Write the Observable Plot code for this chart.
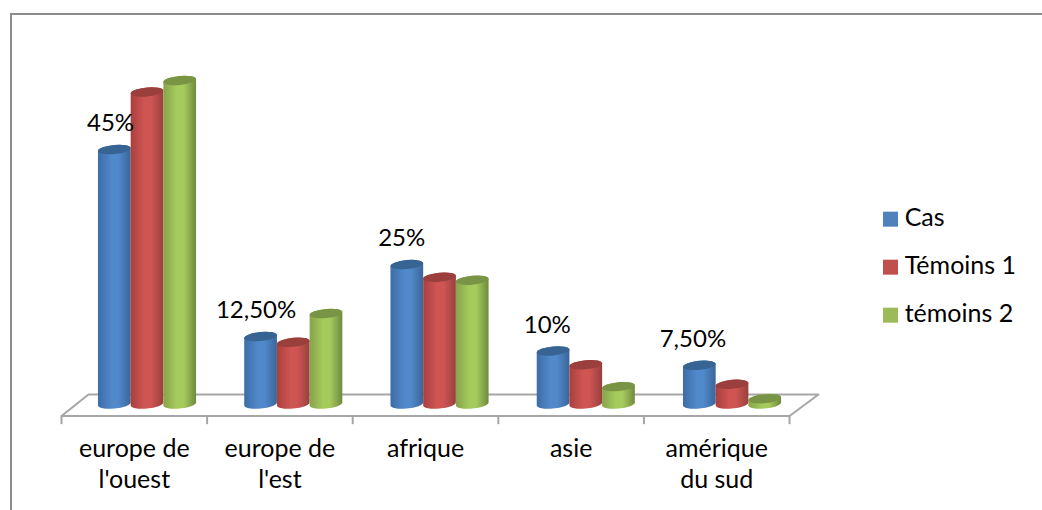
<!DOCTYPE html>
<html>
<head>
<meta charset="utf-8">
<script src="https://cdn.jsdelivr.net/npm/d3@7"></script>
<script src="https://cdn.jsdelivr.net/npm/@observablehq/plot@0.6"></script>
<style>
html,body{margin:0;padding:0;background:#fff}
svg{display:block}
g[aria-label="rect"] rect{transform-box:fill-box;transform-origin:center;transform:skewY(-5deg)}
</style>
</head>
<body>
<div id="chart"></div>
<script>
const categories = ["europe de\nl'ouest", "europe de\nl'est", "afrique", "asie", "amérique\ndu sud"];
const series = ["Cas", "Témoins 1", "témoins 2"];
const cas = [45, 12.5, 25, 10, 7.5];
const temoins1 = [55, 11.5, 22.8, 7.6, 4.2];
const temoins2 = [57, 16.5, 22.3, 3.8, 1.7];
const dataLabels = ["45%", "12,50%", "25%", "10%", "7,50%"];

const values = [cas, temoins1, temoins2];
const solid = ["#4f81bd", "#c0504d", "#9bbb59"];
const dark = ["#376492", "#9a3f3c", "#7a9446"];
const gradientStops = [
  ["#3d6ca6", "#5189cb", "#3a6699"],
  ["#a8403e", "#cf5553", "#97403d"],
  ["#86a34a", "#a6cb5d", "#6f8a3e"]
];

// layout constants in data units: the 3D floor's front edge runs slightly narrower than the bars' step
const barW = 0.2236, frontStep = 0.9956, frontX = -0.0882, backX = 0.0964, backEnd = 5.088, frontY = -2, backY = 1.74;
const frontEnd = frontX + 5 * frontStep;
const floorX = [frontX, frontEnd, backEnd, backX, frontX];
const floorY = [frontY, frontY, backY, backY, frontY];
const floor = floorX.map((x, i) => ({x, y: floorY[i]}));

const defs = () => {
  const svg = d3.create("svg:defs");
  gradientStops.forEach((stops, i) => {
    const g = svg.append("linearGradient").attr("id", "grad" + i);
    [[0, stops[0]], [0.42, stops[1]], [0.62, stops[1]], [1, stops[2]]].forEach(([o, c]) =>
      g.append("stop").attr("offset", o).attr("stop-color", c));
  });
  return svg.node();
};

const rows = j => categories.map((c, i) => ({
  category: c, series: series[j], value: values[j][i],
  x1: i + 0.5 + (j - 1.5) * barW,
  x2: i + 0.5 + (j - 0.5) * barW
}));

const barMarks = series.flatMap((s, j) => [
  Plot.rectY(rows(j), {x1: "x1", x2: "x2", y1: 0, y2: "value", fill: `url(#grad${j})`,
    rx: 16.3, ry: 4.5, insetBottom: -4.5}),
  Plot.rectY(rows(j), {x1: "x1", x2: "x2", y1: "value", y2: "value", fill: dark[j],
    rx: 16.3, ry: 4.5, insetBottom: -9})
]);

const font = "Lato, Carlito, 'Open Sans', sans-serif";
const chart = Plot.plot({
  width: 1042, height: 510,
  marginTop: 13.5, marginLeft: 10.5, marginRight: 0, marginBottom: 0,
  x: {type: "linear", domain: [0, 5], range: [73.9, 805.15], axis: null},
  y: {type: "linear", domain: [0, 45], range: [404, 145], axis: null},
  style: {fontFamily: font, background: "#fff", color: "#000"},
  marks: [
    defs,
    Plot.frame({anchor: "left", stroke: "#8c8c8c", strokeWidth: 2}),
    Plot.frame({anchor: "top", stroke: "#8c8c8c", strokeWidth: 2}),
    Plot.line(floor, {x: "x", y: "y", stroke: "#a6a6a6", strokeWidth: 2}),
    Plot.ruleX(d3.range(6), {x: d => frontX + d * frontStep, y1: frontY, y2: frontY - 1.5, stroke: "#a6a6a6", strokeWidth: 2}),
    ...barMarks,
    Plot.text(categories, {x: (d, i) => frontX + (i + 0.5) * frontStep, y: -5.3, text: d => d, lineAnchor: "top",
      fontSize: 25, lineHeight: 1.24, fill: "#000"}),
    Plot.text(dataLabels, {x: (d, i) => 0.2468 + i * frontStep, y: (d, i) => cas[i],
      dy: -22, text: d => d, fontSize: 24, fill: "#000"}),
    Plot.dot(series, {x: 5.58, y: (d, i) => 32.2 - i * 8.34, symbol: "square", r: 8.46, fill: (d, i) => solid[i]}),
    Plot.text(series, {x: 5.677, y: (d, i) => 32.2 - i * 8.34, dy: -1, text: d => d, textAnchor: "start",
      fontSize: 25, fill: "#000"})
  ]
});
document.getElementById("chart").append(chart);
</script>
</body>
</html>
